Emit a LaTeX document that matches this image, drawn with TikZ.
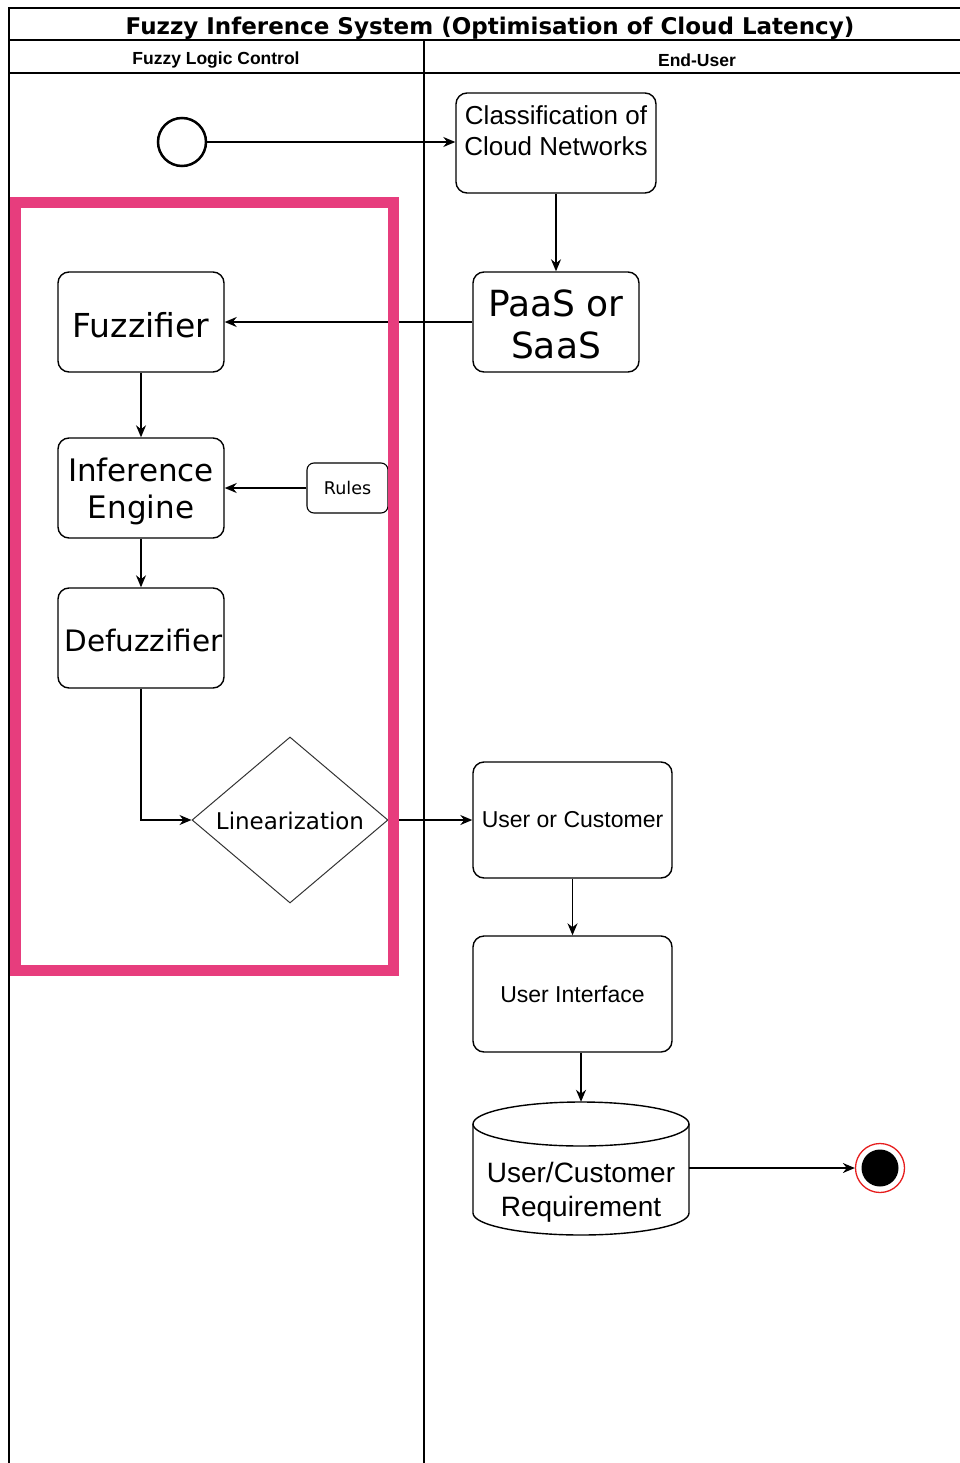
\documentclass[tikz,border=0pt]{standalone}
\usepackage{fontspec}
\setmainfont{Liberation Sans}
\newfontfamily\dv{DejaVu Sans}
\usetikzlibrary{arrows.meta,shapes.geometric}
\definecolor{pinkbox}{RGB}{231,61,125}
\definecolor{endred}{RGB}{230,30,30}
\tikzset{
  frameline/.style={line width=1.5pt, black},
  rbox/.style={draw, line width=1.4pt, rounded corners=11pt, inner sep=0pt, align=center},
  conn/.style={line width=1.4pt, -{Stealth[length=12pt,width=10pt]}},
  txt/.style={inner sep=0pt, align=center},
}
\begin{document}
\begin{tikzpicture}[x=1pt,y=-1pt]
\useasboundingbox (0,0) rectangle (960,1463);
% frame
\draw[frameline] (9,1463) -- (9,8) -- (960,8);
\draw[frameline] (9,40) -- (960,40);
\draw[frameline] (9,73) -- (960,73);
\draw[frameline] (424,40) -- (424,1463);
\node[txt, font={\dv\bfseries\fontsize{23}{26}\selectfont}] (title) at (490,28) {Fuzzy Inference System (Optimisation of Cloud Latency)};
\node[txt, font={\bfseries\fontsize{17.5}{20}\selectfont}] (h1) at (216,60) {Fuzzy Logic Control};
\node[txt, font={\bfseries\fontsize{17.5}{20}\selectfont}] (h2) at (697,60) {End-User};
% nodes
\node[circle, draw, line width=2.5pt, minimum size=48pt, inner sep=0pt] (start) at (182,142) {};
\node[rbox, minimum width=200pt, minimum height=100pt] (cls) at (556,143) {};
\node[txt, font={\fontsize{26}{31}\selectfont}] (clst) at (556,131) {Classification of\\Cloud Networks};
\node[rbox, minimum width=166pt, minimum height=100pt] (paas) at (556,322) {};
\node[txt, font={\dv\fontsize{36}{42}\selectfont}] (paast) at (556,324) {PaaS or\\SaaS};
\node[rbox, minimum width=166pt, minimum height=100pt] (fuzz) at (141,322) {};
\node[txt, font={\dv\fontsize{33}{38}\selectfont}] (fuzzt) at (141,325) {Fuzzifier};
\node[rbox, minimum width=166pt, minimum height=100pt] (inf) at (141,488) {};
\node[txt, font={\dv\fontsize{31}{37}\selectfont}] (inft) at (141,491) {Inference\\Engine};
\node[rbox, minimum width=81pt, minimum height=50pt, rounded corners=7pt, line width=1.1pt, font={\dv\fontsize{17.5}{20}\selectfont}] (rules) at (347.5,488) {Rules};
\node[rbox, minimum width=166pt, minimum height=100pt] (defz) at (141,638) {};
\node[txt, font={\dv\fontsize{29.5}{34}\selectfont}] (defzt) at (143.5,640) {Defuzzifier};
\node[diamond, draw=black!80, line width=1pt, minimum width=196pt, minimum height=166pt, inner sep=0pt] (lin) at (290,820) {};
\node[txt, font={\dv\fontsize{23}{27}\selectfont}] (lint) at (290,821) {Linearization};
\node[rbox, minimum width=199pt, minimum height=116pt, font={\fontsize{23}{27}\selectfont}] (uoc) at (572.5,820) {User or Customer};
\node[rbox, minimum width=199pt, minimum height=116pt, font={\fontsize{23}{27}\selectfont}] (ui) at (572.5,994) {User Interface};
% cylinder
\node[inner sep=0pt, minimum width=216pt, minimum height=133pt] (req) at (581,1168.5) {};
\draw[line width=1.4pt] (473,1124) -- (473,1213) arc[start angle=180, end angle=0, x radius=108, y radius=22] -- (689,1124);
\draw[line width=1.4pt] (581,1124) ellipse [x radius=108, y radius=22];
\node[txt, font={\fontsize{28}{34}\selectfont}] (reqt) at (581,1192) {User/Customer\\Requirement};
% end
\node[circle, draw=endred, line width=1.3pt, minimum size=49pt, inner sep=0pt] (end) at (880,1168) {};
\node[circle, fill=black, minimum size=37pt, inner sep=0pt] (endc) at (880,1168) {};
% connectors
\draw[conn] (start) -- (cls.west |- start);
\draw[conn] (cls) -- (paas);
\draw[conn] (paas) -- (fuzz);
\draw[conn] (fuzz) -- (inf);
\draw[conn] (rules) -- (inf);
\draw[conn] (inf) -- (defz);
\draw[conn] (defz.south) |- (lin.west);
\draw[conn] (lin.east) -- (uoc.west);
\draw[conn] (uoc) -- (ui);
\draw[conn] (ui.south -| req.north) -- (req.north);
\draw[conn] (req.east |- end) -- (end.west);
% pink frame
\draw[pinkbox, line width=11pt] (15.5,203) rectangle (393.5,970.5);
\end{tikzpicture}
\end{document}
